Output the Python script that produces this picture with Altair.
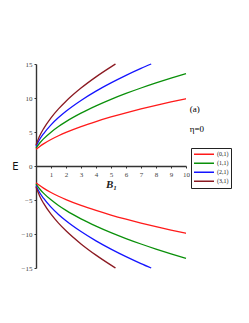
import altair as alt
import pandas as pd

series_names = ["(0,1)", "(1,1)", "(2,1)", "(3,1)"]
series_colors = ["#ff1a1a", "#0a900a", "#1414ff", "#8b1a22"]

B_red = [0, 0.25, 0.5, 1, 1.5, 2, 3, 4, 5, 6, 7, 8, 9, 10]
E_red = [2.45, 2.88, 3.26, 3.90, 4.45, 4.94, 5.80, 6.54, 7.21, 7.82, 8.39, 8.92, 9.42, 9.90]

B_green = [0, 0.25, 0.5, 1, 1.5, 2, 3, 4, 5, 6, 7, 8, 9, 10]
E_green = [2.65, 3.38, 3.99, 4.98, 5.81, 6.53, 7.77, 8.84, 9.80, 10.67, 11.47, 12.22, 12.93, 13.60]

B_blue = [0, 0.25, 0.5, 1, 1.5, 2, 3, 4, 5, 6, 7, 7.68]
E_blue = [2.90, 3.93, 4.74, 6.05, 7.12, 8.05, 9.64, 11.01, 12.22, 13.33, 14.35, 15.0]

B_brown = [0, 0.25, 0.5, 1, 1.5, 2, 3, 4, 5, 5.3]
E_brown = [3.10, 4.44, 5.47, 7.09, 8.40, 9.53, 11.46, 13.11, 14.58, 15.0]

y_ticks = [-15, -10, -5, 0, 5, 10, 15]
x_ticks = [1, 2, 3, 4, 5, 6, 7, 8, 9, 10]

rows = []
for name, Bs, Es in zip(series_names, [B_red, B_green, B_blue, B_brown],
                        [E_red, E_green, E_blue, E_brown]):
    for b, e in zip(Bs, Es):
        rows.append({"series": name, "branch": "up", "B": b, "E": e})
        rows.append({"series": name, "branch": "down", "B": b, "E": -e})
df = pd.DataFrame(rows)

ann = pd.DataFrame({"label": ["(a)", "η=0"], "B": [10.25, 10.25], "E": [8.4, 5.5]})

common_axis = dict(labelFontSize=7, labelFont="Liberation Serif", labelColor="#444",
                   tickSize=2, tickColor="#333", domainColor="#333",
                   domainWidth=1.4, labelPadding=2, grid=False,
                   labelOverlap=False, labelFlush=False, labelBound=False)

X = alt.X("B:Q", scale=alt.Scale(domain=[0, 10], nice=False),
          axis=alt.Axis(values=x_ticks, offset=-102, title="B₁",
                        titleFontStyle="italic", titleFont="Liberation Serif",
                        titleFontSize=11, titleFontWeight="bold",
                        titleColor="#222", titlePadding=1, **common_axis))
Y = alt.Y("E:Q", scale=alt.Scale(domain=[-15, 15], nice=False),
          axis=alt.Axis(values=y_ticks, title="E", titleAngle=0,
                        titleX=-21, titleY=102, titleAlign="center",
                        titleBaseline="middle", titleFontSize=10,
                        titleFont="DejaVu Sans", titleFontWeight="normal",
                        titleColor="#111", **common_axis))

lines = alt.Chart(df).mark_line(strokeWidth=1.3, interpolate="monotone").encode(
    x=X, y=Y,
    color=alt.Color("series:N",
                    scale=alt.Scale(domain=series_names, range=series_colors),
                    legend=alt.Legend(title=None, orient="none", legendX=155,
                                      legendY=84, symbolType="stroke",
                                      symbolSize=400, symbolStrokeWidth=1.5,
                                      clipHeight=8.7, rowPadding=0,
                                      labelFontSize=6,
                                      labelFont="Liberation Serif",
                                      labelColor="#222",
                                      labelOffset=2, padding=2,
                                      strokeColor="#222", fillColor="white",
                                      cornerRadius=0)),
    detail="branch:N",
)

texts = alt.Chart(ann).mark_text(fontSize=9, font="Liberation Serif",
                                 align="left", baseline="middle",
                                 color="#000").encode(
    x=X, y=Y, text="label:N")

chart = alt.layer(lines, texts).properties(
    width=150, height=204,
    autosize=alt.AutoSizeParams(type="none"),
    padding={"left": 28, "top": 56, "right": 55, "bottom": 40},
).configure_view(stroke=None).configure_axis(labelOverlap=False)

chart.save("out.html", embed_options={"renderer": "svg", "actions": False})
